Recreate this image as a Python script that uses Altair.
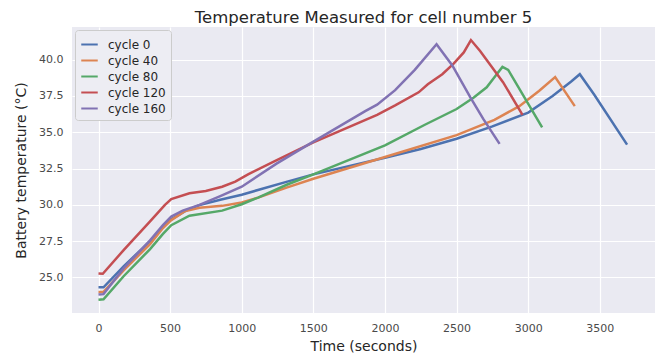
import altair as alt
import pandas as pd

# Series (time in seconds, temperature in °C)
cycles = ["cycle 0", "cycle 40", "cycle 80", "cycle 120", "cycle 160"]
colors = ["#4C72B0", "#DD8452", "#55A868", "#C44E52", "#8172B3"]

t_c0 = [0, 35, 177, 360, 450, 508, 610, 705, 850, 1000, 1318, 1500, 2000, 2250, 2500, 2750, 3000, 3170, 3300, 3360, 3460, 3690]
T_c0 = [24.32, 24.32, 25.78, 27.5, 28.5, 29.0, 29.6, 29.98, 30.35, 30.7, 31.6, 32.1, 33.25, 33.85, 34.55, 35.4, 36.35, 37.5, 38.5, 39.0, 37.6, 34.15]

t_c40 = [0, 35, 177, 360, 450, 508, 600, 705, 863, 1000, 1114, 1318, 1500, 2000, 2500, 2764, 2938, 3075, 3188, 3325]
T_c40 = [24.0, 24.0, 25.5, 27.3, 28.4, 28.95, 29.55, 29.8, 29.93, 30.16, 30.5, 31.2, 31.8, 33.3, 34.8, 35.85, 36.8, 37.84, 38.8, 36.8]

t_c80 = [0, 35, 177, 360, 450, 508, 635, 863, 1000, 1114, 1318, 1500, 2000, 2275, 2500, 2620, 2710, 2780, 2820, 2860, 3097]
T_c80 = [23.47, 23.5, 25.1, 26.95, 28.0, 28.6, 29.25, 29.6, 30.04, 30.5, 31.4, 32.1, 34.1, 35.5, 36.6, 37.4, 38.1, 39.0, 39.5, 39.3, 35.34]

t_c120 = [0, 30, 177, 360, 464, 508, 635, 749, 863, 955, 1044, 1227, 1500, 1945, 2071, 2235, 2299, 2400, 2481, 2550, 2600, 2664, 2824, 2960]
T_c120 = [25.27, 25.25, 26.9, 28.86, 30.0, 30.4, 30.8, 30.95, 31.25, 31.6, 32.1, 33.0, 34.3, 36.2, 36.85, 37.75, 38.3, 39.0, 39.75, 40.5, 41.35, 40.6, 38.45, 36.2]

t_c160 = [0, 35, 177, 360, 450, 508, 588, 705, 850, 1000, 1243, 1500, 1862, 1945, 2071, 2208, 2360, 2470, 2596, 2687, 2800]
T_c160 = [23.82, 23.85, 25.65, 27.55, 28.6, 29.2, 29.6, 30.0, 30.6, 31.25, 32.84, 34.35, 36.45, 36.9, 37.9, 39.3, 41.06, 39.6, 37.4, 35.9, 34.2]

x_ticks = [0, 500, 1000, 1500, 2000, 2500, 3000, 3500]
y_ticks = [25.0, 27.5, 30.0, 32.5, 35.0, 37.5, 40.0]

series = [(cycles[0], t_c0, T_c0), (cycles[1], t_c40, T_c40), (cycles[2], t_c80, T_c80),
          (cycles[3], t_c120, T_c120), (cycles[4], t_c160, T_c160)]
rows = []
for name, ts, Ts in series:
    for i, (t, T) in enumerate(zip(ts, Ts)):
        rows.append({"cycle": name, "time": t, "temp": T, "idx": i})
df = pd.DataFrame(rows)

font = "DejaVu Sans"

chart = alt.Chart(df).mark_line(strokeWidth=2.5, strokeJoin="miter").encode(
    x=alt.X("time:Q",
            scale=alt.Scale(domain=[-185, 3885], nice=False, zero=False),
            axis=alt.Axis(values=x_ticks, format="d", title="Time (seconds)")),
    y=alt.Y("temp:Q",
            scale=alt.Scale(domain=[22.55, 42.25], nice=False, zero=False),
            axis=alt.Axis(values=y_ticks, format=".1f", title="Battery temperature (°C)")),
    color=alt.Color("cycle:N",
                    scale=alt.Scale(domain=cycles, range=colors),
                    sort=cycles,
                    legend=alt.Legend(title=None, orient="top-left", offset=3,
                                      symbolType="stroke", symbolSize=272,
                                      symbolStrokeWidth=2, labelFontSize=12,
                                      labelFont=font, labelColor="#262626",
                                      rowPadding=0, padding=5, labelOffset=9,
                                      fillColor="#EDEDF3", strokeColor="#CCCCCC",
                                      cornerRadius=3)),
    order="idx:Q",
).properties(
    width=583,
    height=286,
    title=alt.TitleParams("Temperature Measured for cell number 5", fontSize=16.5,
                          font=font, fontWeight="normal", color="#262626",
                          anchor="middle", offset=1),
    padding={"left": 64, "top": 19, "right": 2, "bottom": 40},
    autosize=alt.AutoSizeParams(type="none"),
).configure_view(
    fill="#EAEAF2", stroke=None
).configure_axis(
    grid=True, gridColor="white", gridWidth=1.2, domain=False, ticks=False,
    labelFont=font, labelFontSize=11, labelColor="#4a4a4a", labelPadding=9,
    titleFont=font, titleFontSize=14, titleFontWeight="normal", titleColor="#262626",
).configure_axisY(
    titlePadding=10
).configure_axisX(
    titlePadding=6
)

chart.save("out.html", embed_options={"renderer": "svg", "actions": False})
